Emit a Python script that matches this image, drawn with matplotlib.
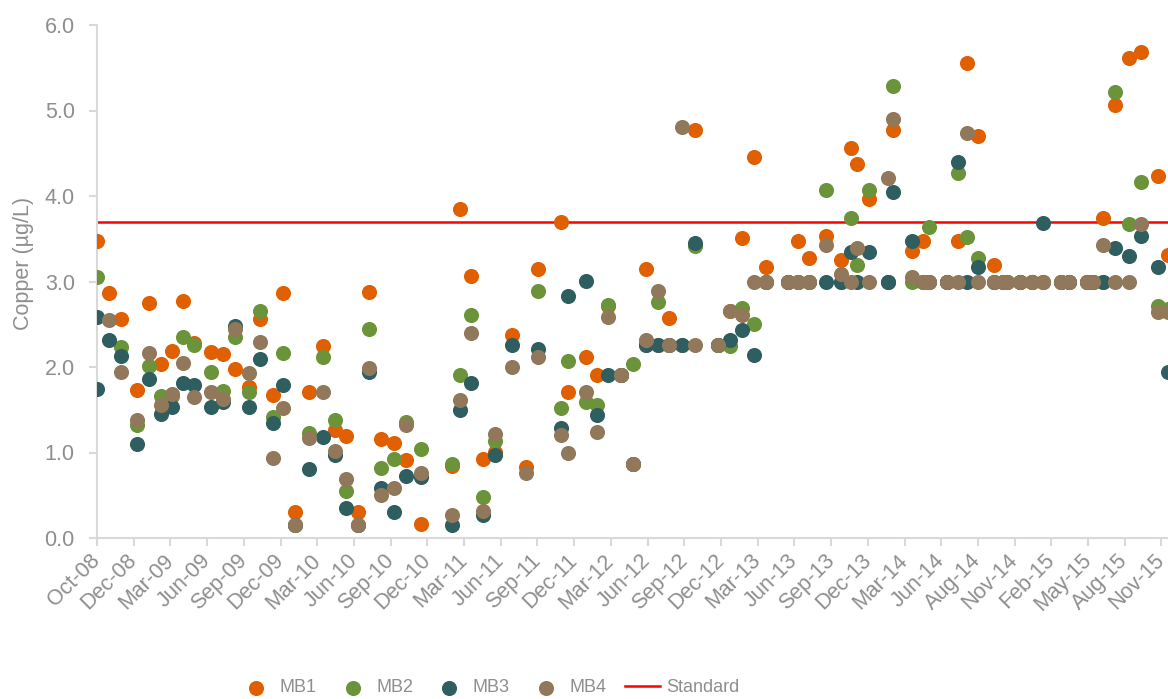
import numpy as np
import pandas as pd
import matplotlib
matplotlib.use("Agg")
import matplotlib.pyplot as plt

plt.rcParams['font.family'] = ['Liberation Sans', 'DejaVu Sans']

nan = np.nan

# sample dates and copper values (ug/L)
dates = ['2008-10-01', '2008-10-02', '2008-10-30', '2008-11-29', '2009-01-07', '2009-02-05',
         '2009-03-07', '2009-04-03', '2009-04-30', '2009-05-27', '2009-07-08', '2009-08-06',
         '2009-09-04', '2009-10-09', '2009-11-05', '2009-12-07', '2009-12-31', '2010-01-29',
         '2010-03-05', '2010-04-08', '2010-05-08', '2010-06-03', '2010-07-03', '2010-07-30',
         '2010-08-28', '2010-09-29', '2010-10-29', '2010-12-04', '2011-02-18', '2011-03-10',
         '2011-04-06', '2011-05-05', '2011-06-04', '2011-07-15', '2011-08-19', '2011-09-17',
         '2011-11-13', '2011-11-30', '2012-01-13', '2012-02-09', '2012-03-07', '2012-04-08',
         '2012-05-07', '2012-06-08', '2012-07-07', '2012-08-03', '2012-09-04', '2012-10-06',
         '2012-12-02', '2012-12-31', '2013-01-29', '2013-02-28', '2013-03-29', '2013-05-22',
         '2013-06-16', '2013-07-13', '2013-08-23', '2013-09-29', '2013-10-24', '2013-11-07',
         '2013-12-07', '2014-01-22', '2014-02-04', '2014-03-22', '2014-04-18', '2014-05-03',
         '2014-06-16', '2014-07-13', '2014-08-04', '2014-08-31', '2014-10-09', '2014-10-31',
         '2014-11-10', '2014-12-12', '2015-01-11', '2015-02-07', '2015-03-23', '2015-04-11',
         '2015-05-25', '2015-06-09', '2015-07-04', '2015-08-02', '2015-09-05', '2015-10-05',
         '2015-11-15', '2015-12-10']

mb1 = [3.47, nan, 2.86, 2.56, 1.73, 2.75, 2.04, 2.19, 2.77, 2.28, 2.17, 2.15,
       1.98, 1.77, 2.56, 1.67, 2.86, 0.30, 1.71, 2.25, 1.26, 1.19, 0.30, 2.88,
       1.16, 1.11, 0.91, 0.16, 0.84, 3.85, 3.06, 0.92, 1.01, 2.37, 0.83, 3.15,
       3.70, 1.71, 2.12, 1.91, 2.71, 1.91, 0.87, 3.15, 2.26, 2.57, nan, 4.77,
       2.26, 2.66, 3.51, 4.46, 3.17, 3.00, 3.47, 3.28, 3.53, 3.25, 4.56, 4.38,
       3.97, 3.00, 4.77, 3.36, 3.47, 3.00, 3.00, 3.47, 5.55, 4.70, 3.19, 3.00,
       3.00, 3.00, 3.00, 3.00, 3.00, 3.00, 3.00, 3.00, 3.74, 5.07, 5.61, 5.69,
       4.23, 3.31]

mb2 = [3.05, nan, nan, 2.23, 1.32, 2.01, 1.66, 1.66, 2.35, 2.26, 1.94, 1.72,
       2.35, 1.71, 2.66, 1.42, 2.16, 0.15, 1.23, 2.12, 1.38, 0.55, 0.15, 2.44,
       0.82, 0.92, 1.36, 1.04, 0.86, 1.91, 2.61, 0.48, 1.13, nan, nan, 2.89,
       1.52, 2.07, 1.59, 1.55, 2.72, 1.91, 2.03, 2.26, 2.76, 2.26, 2.26, 3.41,
       2.26, 2.25, 2.69, 2.50, 3.00, 3.00, 3.00, 3.00, 4.07, 3.00, 3.74, 3.19,
       4.07, 3.00, 5.29, 3.00, 3.00, 3.64, 3.00, 4.27, 3.52, 3.28, 3.00, 3.00,
       3.00, 3.00, 3.00, 3.00, 3.00, 3.00, 3.00, 3.00, 3.00, 5.22, 3.67, 4.16,
       2.71, 2.68]

mb3 = [2.58, 1.74, 2.32, 2.13, 1.10, 1.86, 1.45, 1.53, 1.81, 1.79, 1.53, 1.59,
       2.48, 1.53, 2.09, 1.35, 1.79, 0.15, 0.81, 1.18, 0.97, 0.35, 0.15, 1.94,
       0.58, 0.30, 0.73, 0.71, 0.15, 1.50, 1.81, 0.27, 0.97, 2.26, nan, 2.21,
       1.29, 2.83, 3.01, 1.44, 1.91, 1.91, 0.87, 2.26, 2.26, 2.26, 2.26, 3.45,
       2.26, 2.32, 2.43, 2.14, 3.00, 3.00, 3.00, 3.00, 3.00, 3.00, 3.35, 3.00,
       3.35, 3.00, 4.05, 3.47, 3.00, 3.00, 3.00, 4.40, 3.00, 3.17, 3.00, 3.00,
       3.00, 3.00, 3.00, 3.68, 3.00, 3.00, 3.00, 3.00, 3.00, 3.39, 3.30, 3.53,
       3.17, 1.94]

mb4 = [nan, nan, 2.55, 1.94, 1.38, 2.16, 1.56, 1.68, 2.05, 1.65, 1.71, 1.62,
       2.45, 1.93, 2.29, 0.94, 1.52, 0.15, 1.17, 1.71, 1.02, 0.69, 0.15, 1.99,
       0.50, 0.58, 1.32, 0.76, 0.27, 1.61, 2.40, 0.32, 1.22, 2.00, 0.76, 2.12,
       1.20, 0.99, 1.71, 1.24, 2.58, 1.91, 0.87, 2.31, 2.89, 2.26, 4.81, 2.26,
       2.26, 2.65, 2.61, 3.00, 3.00, 3.00, 3.00, 3.00, 3.43, 3.09, 3.00, 3.39,
       3.00, 4.21, 4.90, 3.05, 3.00, 3.00, 3.00, 3.00, 4.74, 3.00, 3.00, 3.00,
       3.00, 3.00, 3.00, 3.00, 3.00, 3.00, 3.00, 3.00, 3.43, 3.00, 3.00, 3.67,
       2.64, 2.64]

standard = 3.7

series = ['MB1', 'MB2', 'MB3', 'MB4']
colors = ['#E05F00', '#6B943A', '#2F5E60', '#91785A']

x = pd.to_datetime(dates)

fig = plt.figure(figsize=(11.68, 6.99), dpi=100)
ax = fig.add_axes([97 / 1168, 161 / 699, 1071 / 1168, 513 / 699])

handles = []
for name, vals, c in zip(series, [mb1, mb2, mb3, mb4], colors):
    handles.append(ax.scatter(x, vals, s=118, color=c, linewidths=0, label=name, zorder=3))

handles.append(ax.axhline(standard, color='#FF0000', lw=1.8, label='Standard', zorder=2))

start = pd.Timestamp('2008-10-01')
ticks = [start + pd.Timedelta(days=90 * k) for k in range(30)]
ax.set_xticks(ticks)
ax.set_xticklabels([t.strftime('%b-%y') for t in ticks], rotation=45,
                   ha='right', va='center', rotation_mode='anchor')
ax.set_xlim(start, start + pd.Timedelta(days=2626))
ax.set_ylim(0, 6)
ax.set_yticks(np.arange(0, 6.1, 1.0))
ax.set_yticklabels(['%.1f' % v for v in np.arange(0, 6.1, 1.0)])

for s in ['top', 'right']:
    ax.spines[s].set_visible(False)
for s in ['left', 'bottom']:
    ax.spines[s].set_color('#D9D9D9')
    ax.spines[s].set_linewidth(1.5)

ax.tick_params(axis='both', colors='#D9D9D9', labelcolor='#8E8E8E',
               length=6, width=1.5, labelsize=15.5)
ax.tick_params(axis='x', pad=8)
ax.tick_params(axis='y', pad=10)

ax.set_ylabel('Copper (µg/L)', fontsize=15.5, color='#8E8E8E')
ax.yaxis.set_label_coords(-0.059, 0.536)

fig.legend(handles, [h.get_label() for h in handles], loc='center left',
           bbox_to_anchor=(239 / 1168, 11 / 699), ncol=5, frameon=False,
           fontsize=13, labelcolor='#8E8E8E', handlelength=1.9,
           handletextpad=0.35, columnspacing=1.05, borderpad=0,
           borderaxespad=0, scatterpoints=1)

plt.savefig('out.png', dpi=100)
